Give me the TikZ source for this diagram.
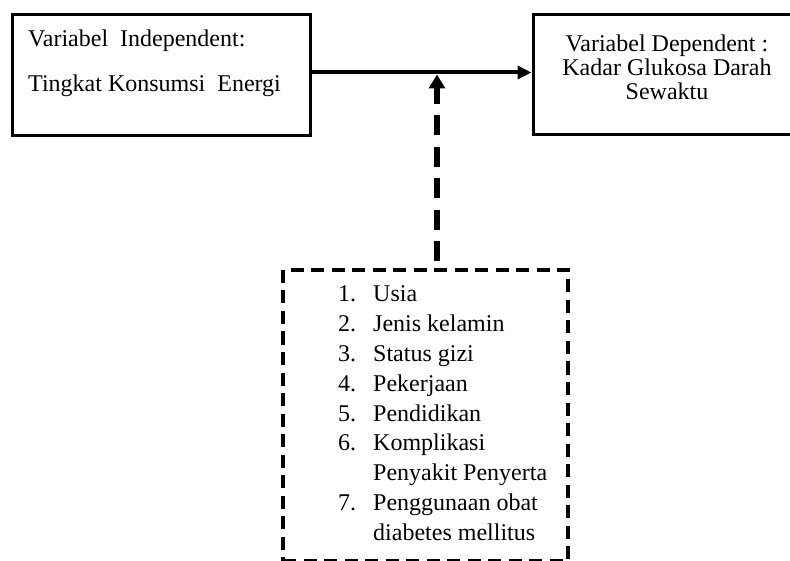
\documentclass[tikz,border=0pt]{standalone}
\usepackage{fontspec}
\setmainfont{Liberation Serif}
\usetikzlibrary{arrows.meta, positioning, calc}

\tikzset{
  varbox/.style={draw, line width=3pt, inner sep=0pt},
  factorbox/.style={draw, line width=3.5pt, dash pattern=on 13pt off 7.5pt, inner sep=0pt},
  txt/.style={font=\fontsize{24}{24}\selectfont, inner sep=0pt},
}

\begin{document}
\begin{tikzpicture}[x=1pt, y=-1pt]
    \useasboundingbox (0,0) rectangle (790,561);
    \clip (0,0) rectangle (790,561);

    % Variable boxes
    \node[varbox, minimum width=298pt, minimum height=121pt] (indep) at (161,75.5) {};
    \node[varbox, minimum width=268pt, minimum height=120pt] (dep) at (667,75) {};

    % Box labels
    \node[txt, anchor=base west] (indepA) at (28,47) {Variabel\ \ Independent:};
    \node[txt, anchor=base west] (indepB) at (28,92) {Tingkat Konsumsi\ \ Energi};
    \foreach \txt [count=\k] in {Variabel Dependent :, Kadar Glukosa Darah, Sewaktu} {
      \node[txt, anchor=base] (dep\k) at (667, 28+24*\k) {\txt};
    }

    % Confounding factors
    \node[factorbox, minimum width=285pt, minimum height=291pt] (factors) at (425.5,415.5) {};
    \foreach \num/\txt [count=\k] in {1./Usia, 2./Jenis kelamin, 3./Status gizi,
        4./Pekerjaan, 5./Pendidikan, 6./Komplikasi, /Penyakit Penyerta,
        7./Penggunaan obat, /diabetes mellitus} {
      \node[txt, anchor=base west] (item\k) at (338, 272.25+29.75*\k)
        {\makebox[35pt][l]{\num}\txt};
    }

    % Arrows
    \draw[line width=4pt, -{Triangle[length=14pt, width=13pt]}]
      ([yshift=3pt]indep.east) -- ([yshift=3pt]indep.east -| dep.west);
    \coordinate (meet) at (437,74.5);
    \draw[line width=6pt, dash pattern=on 20pt off 11.5pt, dash phase=24.5pt,
      -{Triangle[length=14pt, width=16pt]}]
      (factors.north -| meet) -- (meet);
\end{tikzpicture}
\end{document}
